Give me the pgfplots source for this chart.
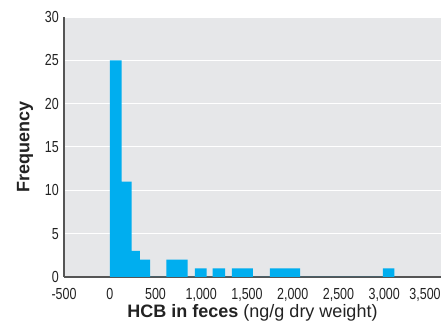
\documentclass[border=0pt]{standalone}
\usepackage{fontspec}
\setmainfont{Liberation Sans}
\newfontfamily\tickfont{Liberation Sans}[FakeStretch=0.78]
\usepackage{pgfplots}
\pgfplotsset{compat=1.18}
\definecolor{barc}{HTML}{00AEEF}
\definecolor{bgc}{HTML}{E6E7E9}
\definecolor{axc}{HTML}{555555}
\definecolor{txt}{HTML}{222222}
\begin{document}
\begin{tikzpicture}
\begin{axis}[
  scale only axis,
  width=377pt, height=260pt,
  xmin=-500, xmax=3620, ymin=0, ymax=30,
  axis x line=bottom, axis y line=left,
  axis line style={-, draw=axc, line width=1.3pt},
  axis background/.style={fill=bgc},
  ymajorgrids, grid style={white, line width=1pt},
  major tick length=0pt,
  xtick={-500,0,500,1000,1500,2000,2500,3000,3500},
  xticklabels={-500,0,500,{1,000},{1,500},{2,000},{2,500},{3,000},{\hspace*{-10pt}3,500}},
  ytick={0,5,10,15,20,25,30},
  /pgf/number format/assume math mode=true,
  tick label style={font=\tickfont\fontsize{16}{16}\selectfont, text=txt, inner sep=1pt},
  yticklabel style={xshift=-4pt},
  xticklabel style={yshift=-10pt},
  xlabel={\textbf{HCB in feces} (ng/g dry weight)},
  ylabel={\textbf{Frequency}},
  label style={font=\fontsize{18}{18}\selectfont, text=txt},
  xlabel style={at={(axis description cs:0.5,0)}, anchor=center, yshift=-36pt},
  ylabel style={at={(axis description cs:0,0.5)}, anchor=center, rotate=0, yshift=39pt},
]
\addplot[ybar interval, fill=barc, draw=none] coordinates {
(0,25) (130,11) (240,3) (330,2) (440,0) (620,2) (850,0) (930,1) (1060,0)
(1125,1) (1260,0) (1335,1) (1565,0) (1750,1) (2080,0) (2985,1) (3110,0)
};
\end{axis}
\pgfresetboundingbox
\path ([shift={(-64pt,-47pt)}]current axis.south west) rectangle ([shift={(2pt,17pt)}]current axis.north east);
\end{tikzpicture}
\end{document}
